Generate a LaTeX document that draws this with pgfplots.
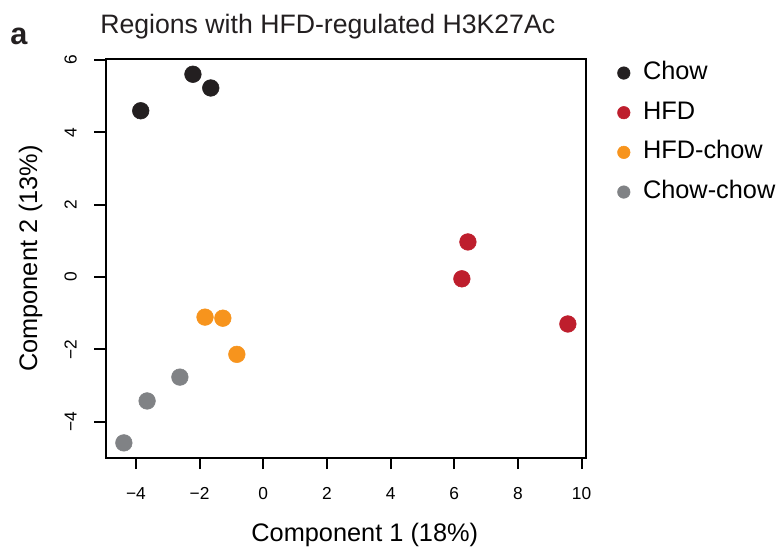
\documentclass[border=0pt]{standalone}
\usepackage{fontspec}
\setmainfont{Liberation Sans}
\usepackage{pgfplots}
\pgfplotsset{compat=1.18}
\definecolor{cchow}{HTML}{231F20}
\definecolor{chfd}{HTML}{BE1E2D}
\definecolor{chfdchow}{HTML}{F7941D}
\definecolor{cchowchow}{HTML}{808285}
\begin{document}
\begin{tikzpicture}
\useasboundingbox (-79.3pt,-70.0pt) rectangle (505.0pt,343.3pt);
\begin{axis}[
  at={(0pt,0pt)}, anchor=south west,
  scale only axis, width=360pt, height=299pt,
  xmin=-4.95, xmax=10.13, ymin=-5.0, ymax=6.03,
  xtick={-4,-2,0,2,4,6,8,10},
  xticklabels={−4,−2,0,2,4,6,8,10},
  ytick={-4,-2,0,2,4,6},
  yticklabels={−4,−2,0,2,4,6},
  tick align=outside, xtick pos=bottom, ytick pos=left,
  major tick length=8.5pt,
  every tick/.style={line width=1.5pt, black},
  axis line style={line width=1.5pt, black},
  ticklabel style={font=\fontsize{13}{13}\selectfont},
  xticklabel style={yshift=-10.5pt},
  yticklabel style={xshift=-9.75pt, rotate=90, anchor=south},
  xlabel={Component 1 (18\%)},
  ylabel={Component 2 (13\%)},
  every axis x label/.style={at={(axis description cs:0,0)}, anchor=base west, xshift=105.75pt, yshift=-63.2pt, font=\fontsize{19}{19}\selectfont},
  every axis y label/.style={at={(axis description cs:0,0.5)}, xshift=-51.5pt, rotate=90, anchor=base, font=\fontsize{19}{19}\selectfont},
  legend style={at={(axis description cs:1,1)}, anchor=north west, xshift=23.5pt, yshift=-1.5pt,
    draw=none, fill=none, inner sep=0pt, row sep=16pt, column sep=9.5pt,
    font=\fontsize{19}{19}\selectfont,
    nodes={inner sep=0pt, text height=13.75pt, text depth=0pt}},
  legend cell align=left,
  legend image code/.code={\fill[#1] (0pt,-1.9pt) circle (4.7pt);},
]
\addplot[only marks, mark=*, color=cchow, mark size=6.25pt, mark options={draw=none, fill=cchow}]
  coordinates {(-3.85,4.60) (-2.21,5.61) (-1.65,5.23)};
\addlegendentry{Chow}
\addplot[only marks, mark=*, color=chfd, mark size=6.25pt, mark options={draw=none, fill=chfd}]
  coordinates {(6.24,-0.05) (6.43,0.97) (9.57,-1.30)};
\addlegendentry{HFD}
\addplot[only marks, mark=*, color=chfdchow, mark size=6.25pt, mark options={draw=none, fill=chfdchow}]
  coordinates {(-1.83,-1.11) (-1.27,-1.14) (-0.83,-2.14)};
\addlegendentry{HFD-chow}
\addplot[only marks, mark=*, color=cchowchow, mark size=6.25pt, mark options={draw=none, fill=cchowchow}]
  coordinates {(-2.62,-2.77) (-3.65,-3.43) (-4.38,-4.59)};
\addlegendentry{Chow-chow}
\end{axis}
\node[anchor=base west, inner sep=0pt, font=\fontsize{20}{20}\selectfont, text=cchow] at (-4.3pt,318.3pt) {Regions with HFD-regulated H3K27Ac};
\node[anchor=base west, inner sep=0pt, font=\bfseries\fontsize{23}{23}\selectfont, text=cchow] at (-71.8pt,310pt) {a};
\end{tikzpicture}
\end{document}
